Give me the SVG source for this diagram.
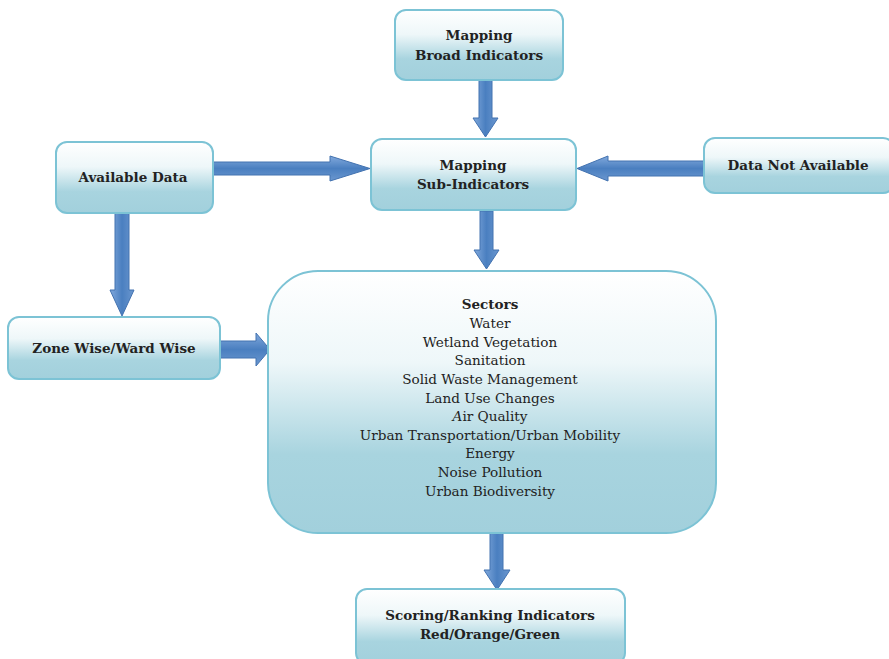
<svg xmlns="http://www.w3.org/2000/svg" width="889" height="659" viewBox="0 0 889 659">
<defs>
<linearGradient id="boxg" x1="0" y1="0" x2="0" y2="1">
<stop offset="0" stop-color="#ffffff"/>
<stop offset="0.35" stop-color="#eef7f9"/>
<stop offset="0.7" stop-color="#a8d4df"/>
<stop offset="1" stop-color="#a2d0dc"/>
</linearGradient>
<linearGradient id="arrV" x1="0" y1="0" x2="1" y2="0">
<stop offset="0" stop-color="#82a9dc"/>
<stop offset="0.5" stop-color="#4a7fc0"/>
<stop offset="1" stop-color="#6b97cf"/>
</linearGradient>
<linearGradient id="arrH" x1="0" y1="0" x2="0" y2="1">
<stop offset="0" stop-color="#82a9dc"/>
<stop offset="0.5" stop-color="#4a7fc0"/>
<stop offset="1" stop-color="#6b97cf"/>
</linearGradient>
</defs>
<style>
.box{fill:url(#boxg);stroke:#7cc3d5;stroke-width:2}
.t{font-family:"DejaVu Serif","Liberation Serif",serif;font-size:13.5px;font-weight:bold;fill:#222;text-anchor:middle}
.s{font-family:"DejaVu Serif","Liberation Serif",serif;font-size:13.6px;fill:#222;text-anchor:middle}
.av{fill:url(#arrV);stroke:#4272b0;stroke-width:1}
.ah{fill:url(#arrH);stroke:#4272b0;stroke-width:1}
</style>
<rect width="889" height="659" fill="#ffffff"/>
<g id="connectors">
<path class="av" d="M479,80 L492,80 L492,118 L498,118 L485.5,137 L473,118 L479,118 Z"/>
<path class="ah" d="M213,162 L330,162 L330,156 L370,168.5 L330,181 L330,175 L213,175 Z"/>
<path class="ah" d="M704,161 L608,161 L608,156 L577,168.5 L608,181 L608,176 L704,176 Z"/>
<path class="av" d="M480,211 L493,211 L493,250 L499,250 L486.5,269 L474,250 L480,250 Z"/>
<path class="av" d="M115,213 L129,213 L129,290 L134,290 L122,316 L110,290 L115,290 Z"/>
<path class="ah" d="M220,341 L256,341 L256,333 L270,349.5 L256,366 L256,358 L220,358 Z"/>
<path class="av" d="M490,533 L503,533 L503,570 L510,570 L497,590 L484,570 L490,570 Z"/>
</g>
<g id="broad">
<rect class="box" x="395" y="10" width="168" height="70" rx="11"/>
<text class="t" x="479" y="40">Mapping</text>
<text class="t" x="479" y="60">Broad Indicators</text>
</g>
<g id="sub">
<rect class="box" x="371" y="139" width="205" height="71" rx="11"/>
<text class="t" x="473" y="170">Mapping</text>
<text class="t" x="473" y="189">Sub-Indicators</text>
</g>
<g id="available">
<rect class="box" x="56" y="142" width="157" height="71" rx="11"/>
<text class="t" x="133" y="182">Available Data</text>
</g>
<g id="notavailable">
<rect class="box" x="704" y="138" width="190" height="55" rx="11"/>
<text class="t" x="798" y="170">Data Not Available</text>
</g>
<g id="zone">
<rect class="box" x="8" y="317" width="212" height="62" rx="11"/>
<text class="t" x="114" y="353">Zone Wise/Ward Wise</text>
</g>
<g id="sectors">
<rect class="box" x="268" y="271" width="448" height="262" rx="50"/>
<text class="t" x="490" y="309">Sectors</text>
<text class="s" x="490" y="328">Water</text>
<text class="s" x="490" y="347">Wetland Vegetation</text>
<text class="s" x="490" y="365">Sanitation</text>
<text class="s" x="490" y="384">Solid Waste Management</text>
<text class="s" x="490" y="403">Land Use Changes</text>
<text class="s" x="490" y="421"><tspan font-style="italic">A</tspan>ir Quality</text>
<text class="s" x="490" y="440">Urban Transportation/Urban Mobility</text>
<text class="s" x="490" y="458">Energy</text>
<text class="s" x="490" y="477">Noise Pollution</text>
<text class="s" x="490" y="496">Urban Biodiversity</text>
</g>
<g id="scoring">
<rect class="box" x="356" y="589" width="269" height="75" rx="11"/>
<text class="t" x="490" y="620">Scoring/Ranking Indicators</text>
<text class="t" x="490" y="639">Red/Orange/Green</text>
</g>
</svg>
